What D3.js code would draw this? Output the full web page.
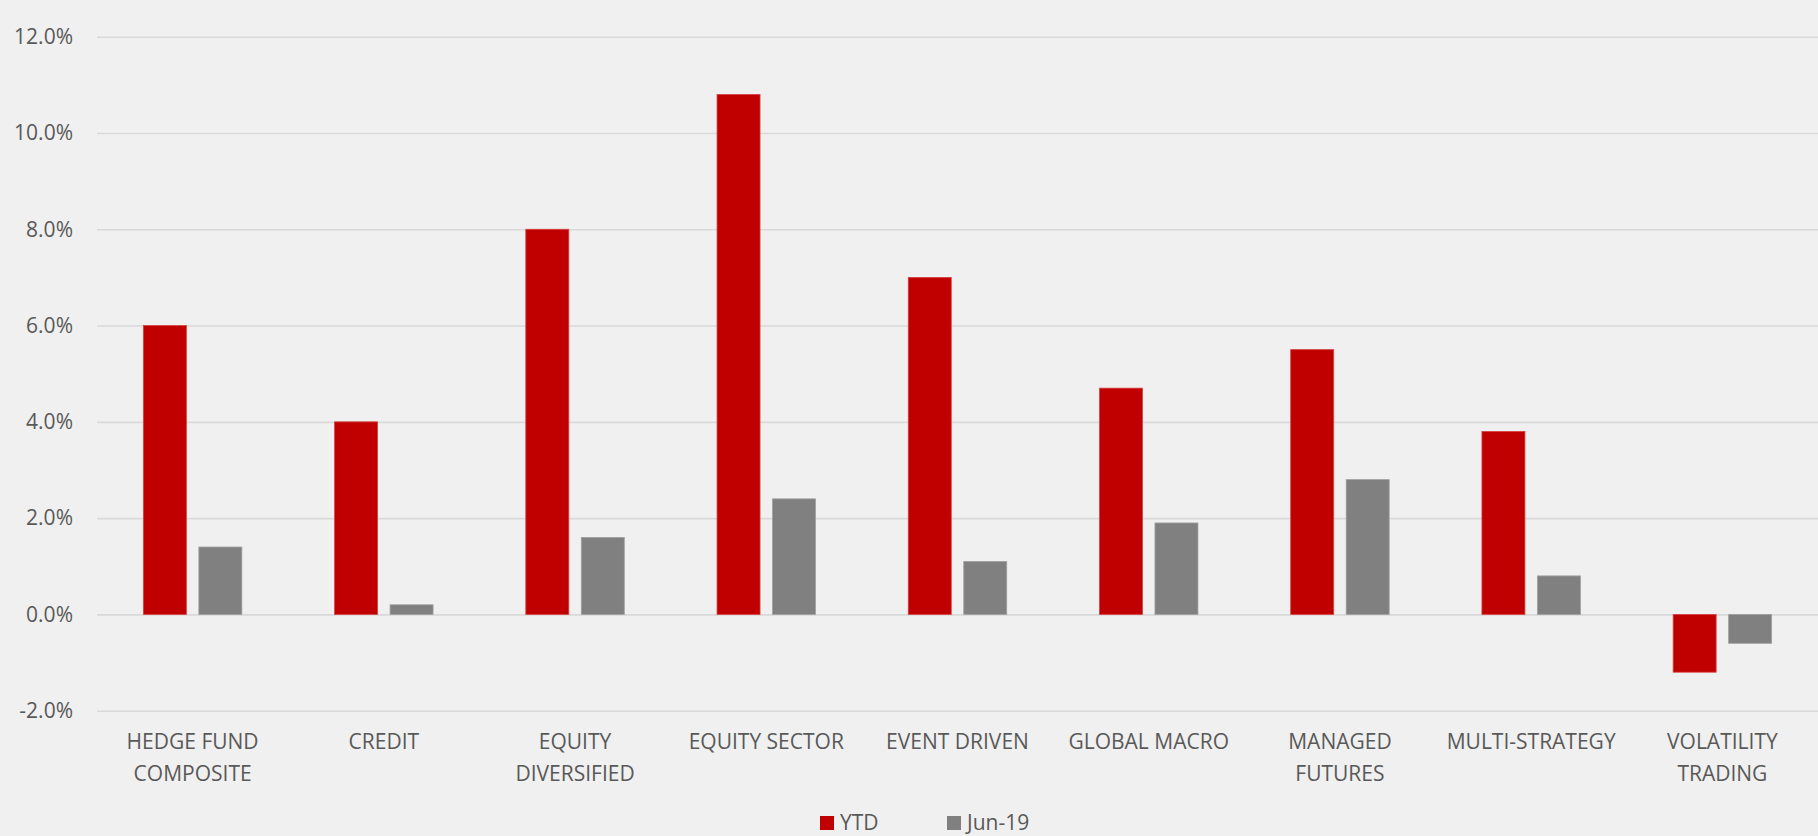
<!DOCTYPE html>
<html>
<head>
<meta charset="utf-8">
<script src="https://cdn.jsdelivr.net/npm/d3@7"></script>
<style>
html,body{margin:0;padding:0;background:#f0f0f0;overflow:hidden;}
svg{display:block;}
text{font-family:"Open Sans","Noto Sans",sans-serif;fill:#595959;}
</style>
</head>
<body>
<svg id="chart" width="1818" height="836"></svg>
<script>
const categories = [
  ["HEDGE FUND","COMPOSITE"],
  ["CREDIT"],
  ["EQUITY","DIVERSIFIED"],
  ["EQUITY SECTOR"],
  ["EVENT DRIVEN"],
  ["GLOBAL MACRO"],
  ["MANAGED","FUTURES"],
  ["MULTI-STRATEGY"],
  ["VOLATILITY","TRADING"]
];
const seriesNames = ["YTD","Jun-19"];
const ytdValues = [6.0, 4.0, 8.0, 10.8, 7.0, 4.7, 5.5, 3.8, -1.2];
const jun19Values = [1.4, 0.2, 1.6, 2.4, 1.1, 1.9, 2.8, 0.8, -0.6];
const yTicks = [-2, 0, 2, 4, 6, 8, 10, 12];
const colors = ["#c00000","#808080"];

const svg = d3.select("#chart");
const mLeft = 97, mRight = 1818, mTop = 36.7, mBottom = 710.7;

const keys = categories.map(c => c.join(" "));
const x0 = d3.scaleBand().domain(keys).range([mLeft, mRight]).paddingInner(0.485).paddingOuter(0.2425);
const x1 = d3.scaleBand().domain(seriesNames).range([0, x0.bandwidth()]).paddingInner(0.225);
const y = d3.scaleLinear().domain([-2, 12]).range([mBottom, mTop]);

// gridlines
const yAxis = d3.axisLeft(y).tickValues(yTicks).tickFormat(d => d.toFixed(1) + "%").tickSize(-(mRight-mLeft)).tickPadding(24);
const gy = svg.append("g").attr("transform", `translate(${mLeft},0)`).call(yAxis);
gy.select(".domain").remove();
gy.selectAll(".tick line").attr("stroke", "#d9d9d9").attr("stroke-width", 1.6);
gy.selectAll(".tick text").attr("font-size", 21).attr("fill", "#595959").attr("font-family", '"Open Sans","Noto Sans",sans-serif');

// bars
const data = keys.map((k, i) => ({key: k, vals: [ytdValues[i], jun19Values[i]]}));
const groups = svg.append("g").selectAll("g").data(data).join("g")
  .attr("transform", d => `translate(${x0(d.key)},0)`);
groups.selectAll("rect").data(d => d.vals.map((v, j) => ({s: seriesNames[j], v, j})))
  .join("rect")
  .attr("x", d => x1(d.s))
  .attr("width", x1.bandwidth())
  .attr("y", d => y(Math.max(0, d.v)))
  .attr("height", d => Math.abs(y(d.v) - y(0)))
  .attr("fill", d => colors[d.j])
  .attr("stroke", d => d.j === 0 ? "#d84040" : "#a0a0a0")
  .attr("stroke-width", 0.8);

// category labels
const xl = svg.append("g");
categories.forEach((lines, i) => {
  const cx = x0(keys[i]) + x0.bandwidth() / 2;
  const t = xl.append("text").attr("text-anchor", "middle").attr("font-size", 21);
  lines.forEach((ln, k) => {
    t.append("tspan").attr("x", cx).attr("y", 749 + k * 31.6).text(ln);
  });
});

// legend
const legend = svg.append("g");
const legX = [820, 947];
seriesNames.forEach((s, i) => {
  legend.append("rect").attr("x", legX[i]).attr("y", 816).attr("width", 14).attr("height", 14).attr("fill", colors[i]);
  legend.append("text").attr("x", legX[i] + 20).attr("y", 830).attr("font-size", 21).text(s);
});
</script>
</body>
</html>
